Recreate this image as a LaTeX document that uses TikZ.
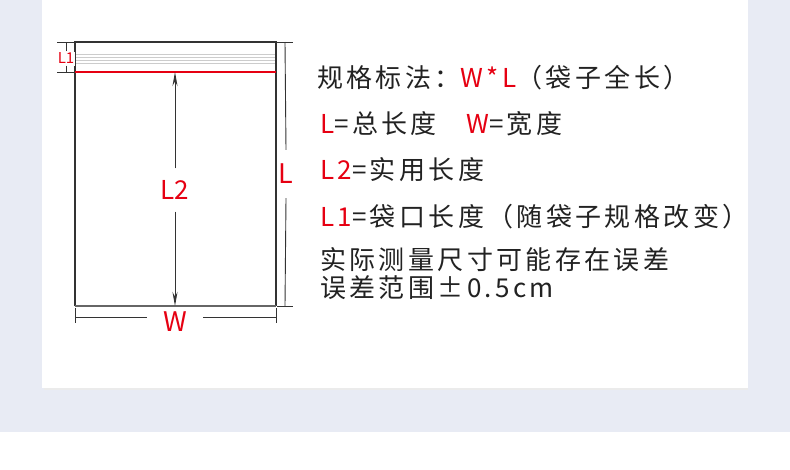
\documentclass[tikz,border=0pt]{standalone}
\usepackage{fontspec}
\setmainfont{Noto Sans CJK SC}
\usetikzlibrary{arrows.meta}
\definecolor{bgblue}{HTML}{E8EBF4}
\definecolor{tagred}{HTML}{E60012}
\definecolor{edgegray}{HTML}{333333}
\definecolor{textgray}{HTML}{222222}
\tikzset{
  dimline/.style={draw=edgegray, line width=0.9pt},
  dimarrow/.style={dimline, -{Stealth[length=14pt,width=5pt]}},
  dimlabel/.style={text=tagred, fill=white, inner xsep=1pt},
  specline/.style={anchor=west, inner sep=0pt, text=textgray,
    font=\fontsize{26}{26}\selectfont\addfontfeature{LetterSpace=13}},
}
\begin{document}
\begin{tikzpicture}[x=1pt,y=-1pt]
\useasboundingbox (0,0) rectangle (790,469);
% background and panel
\fill[bgblue] (0,0) rectangle (790,432);
\fill[black!8] (44,386) rectangle (748,390);
\fill[white] (42,0) rectangle (748,388);

% bag
\coordinate (tl) at (75,42);
\coordinate (tr) at (276,42);
\coordinate (bl) at (75,306);
\coordinate (br) at (276,306);
\coordinate (ml) at (75,72);
\coordinate (mr) at (276,72);
\foreach \y in {54,57,60,63}
  \draw[black!20, line width=0.8pt] (75,\y) -- (276,\y);
\draw[edgegray, line width=1.1pt] (bl) -- (tl) -- (tr) -- (br);
\draw[black!60, line width=2pt] (bl) -- (br);
\draw[tagred, line width=1.4pt] (ml) -- (mr);

% L2
\coordinate (mt) at (175,72);
\coordinate (mb) at (175,306);
\node[dimlabel, inner ysep=12pt, font=\fontsize{26}{26}\selectfont] (L2) at (175,190) {L2};
\draw[dimarrow] (L2.north) -- (mt);
\draw[dimarrow] (L2.south) -- (mb);

% L1
\coordinate (at) at (66,42);
\coordinate (ab) at (66,72);
\draw[dimline] (57,42) -- (75,42);
\draw[dimline] (57,72) -- (75,72);
\node[dimlabel, inner ysep=1.5pt, font=\fontsize{15}{15}\selectfont] (L1) at (66,58.5) {L1};
\draw[dimline] (L1.north) -- (at);
\draw[dimline] (L1.south) -- (ab);

% L
\coordinate (lt) at (285,42);
\coordinate (lb) at (285,306);
\draw[dimline] (277,42) -- (293,42);
\draw[dimline] (277,306) -- (293,306);
\node[dimlabel, inner ysep=14pt, font=\fontsize{27}{27}\selectfont] (L) at (286,174) {L};
\draw[dimline] (L.north) -- (lt);
\draw[dimline] (L.south) -- (lb);

% W
\coordinate (wl) at (75,317);
\coordinate (wr) at (276,317);
\draw[dimline] (75,308) -- (75,323);
\draw[dimline] (276,308) -- (276,323);
\node[dimlabel, inner xsep=16pt, font=\fontsize{27}{27}\selectfont] (W) at (175,322) {W};
\draw[dimline] (wl) -- (wl -| W.west);
\draw[dimline] (wr) -- (wr -| W.east);

% notes
\node[specline] (s1) at (317,78) {规格标法：{\color{tagred}W*L}（袋子全长）};
\node[specline] (s2) at (320,124) {{\color{tagred}L}=总长度　{\color{tagred}W}=宽度};
\node[specline] (s3) at (320,170) {{\color{tagred}L2}=实用长度};
\node[specline] (s4) at (320,217) {{\color{tagred}L1}=袋口长度（随袋子规格改变）};
\node[specline] (s5) at (320,260) {实际测量尺寸可能存在误差};
\node[specline] (s6) at (320,288) {误差范围±0.5cm};
\end{tikzpicture}
\end{document}
